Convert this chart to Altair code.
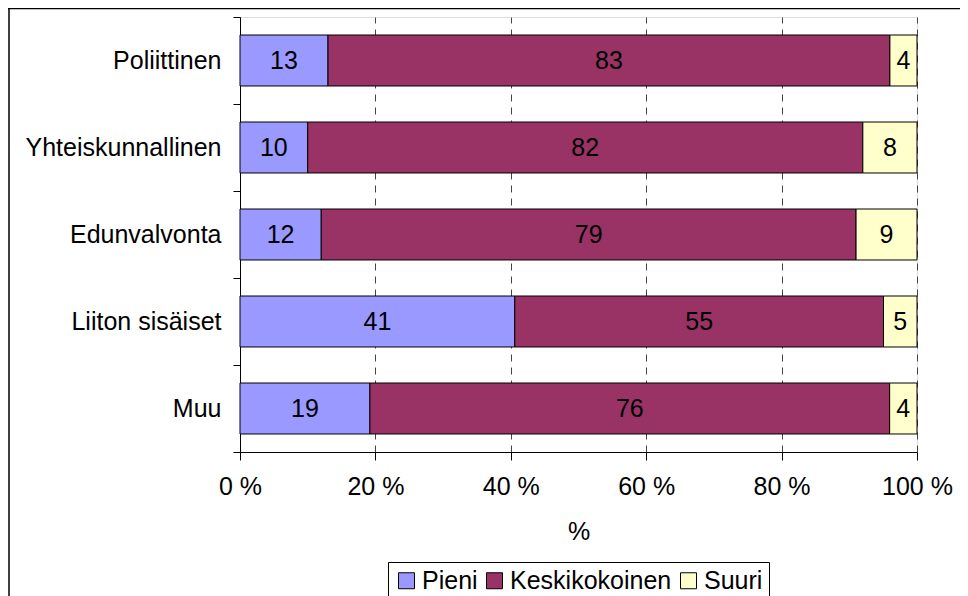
import altair as alt
import pandas as pd

categories = ["Poliittinen", "Yhteiskunnallinen", "Edunvalvonta", "Liiton sisäiset", "Muu"]
series = ["Pieni", "Keskikokoinen", "Suuri"]
pieni = [13, 10, 12, 41, 19]
keski = [83, 82, 79, 55, 76]
suuri = [4, 8, 9, 5, 4]
colors = ["#9999FF", "#993366", "#FFFFCC"]
x_ticks = [0, 0.2, 0.4, 0.6, 0.8, 1.0]

rows = []
for i, c in enumerate(categories):
    for j, (s, vals) in enumerate(zip(series, [pieni, keski, suuri])):
        rows.append({"category": c, "series": s, "order": j, "value": vals[i]})
df = pd.DataFrame(rows)

FONT = "Liberation Sans"
W, H = 677, 435

base = alt.Chart(df).transform_joinaggregate(
    total="sum(value)", groupby=["category"]
).transform_window(
    cum="sum(value)", groupby=["category"], sort=[{"field": "order"}], frame=[None, 0]
).transform_calculate(
    start="(datum.cum - datum.value) / datum.total",
    end="datum.cum / datum.total",
    mid="(datum.cum - datum.value / 2) / datum.total",
)

yenc = alt.Y(
    "category:N",
    sort=categories,
    scale=alt.Scale(paddingInner=0, paddingOuter=0),
    axis=alt.Axis(
        title=None, tickBand="extent", tickSize=7, labelPadding=12,
        labelFontSize=25, labelFont=FONT, labelColor="black", labelLimit=0,
        domainColor="black", tickColor="black", grid=False,
    ),
)

bars = base.mark_bar(stroke="black", strokeWidth=1, height={"band": 0.586}).encode(
    x=alt.X(
        "start:Q",
        scale=alt.Scale(domain=[0, 1]),
        axis=alt.Axis(
            values=x_ticks, labelExpr="format(datum.value*100, 'd') + ' %'",
            title="%", titleFont=FONT, titleFontSize=25, titleFontWeight="normal",
            titleColor="black", titlePadding=20, labelFlush=False,
            labelFontSize=25, labelFont=FONT, labelColor="black", labelPadding=14,
            tickSize=8, tickColor="black", domainColor="black",
            grid=True, gridDash=[7, 6], gridColor="#444444", gridWidth=1,
        ),
    ),
    x2="end:Q",
    y=yenc,
    color=alt.Color(
        "series:N",
        sort=series,
        scale=alt.Scale(domain=series, range=colors),
        legend=alt.Legend(
            title=None, orient="none", legendX=148, legendY=545,
            direction="horizontal", strokeColor="black", padding=6,
            symbolType="square", symbolSize=256, symbolStrokeColor="black",
            symbolStrokeWidth=1, labelFontSize=25, labelFont=FONT, labelLimit=0,
            labelColor="black", columnPadding=4, labelOffset=3, symbolOpacity=1,
        ),
    ),
    order=alt.Order("order:Q"),
)

labels = base.mark_text(fontSize=25, font=FONT, color="black").encode(
    x=alt.X("mid:Q"),
    y=alt.Y("category:N", sort=categories),
    text=alt.Text("value:Q"),
)

border_top = alt.Chart(pd.DataFrame({"a": [0]})).mark_rule(color="black", strokeWidth=1.5).encode(
    x=alt.value(-232), x2=alt.value(W + 60), y=alt.value(-8.5)
)
border_left = alt.Chart(pd.DataFrame({"a": [0]})).mark_rule(color="black", strokeWidth=1.5).encode(
    x=alt.value(-231), y=alt.value(-9), y2=alt.value(H + 160)
)

chart = alt.layer(bars, labels, border_top, border_left).properties(
    width=W, height=H,
    autosize=alt.AutoSizeParams(type="none"),
    padding={"left": 232, "top": 9, "right": 43, "bottom": 160},
).configure_view(
    stroke="#808080", strokeWidth=1
).configure(background="white")

chart.save("out.html", embed_options={"renderer": "svg", "actions": False})
